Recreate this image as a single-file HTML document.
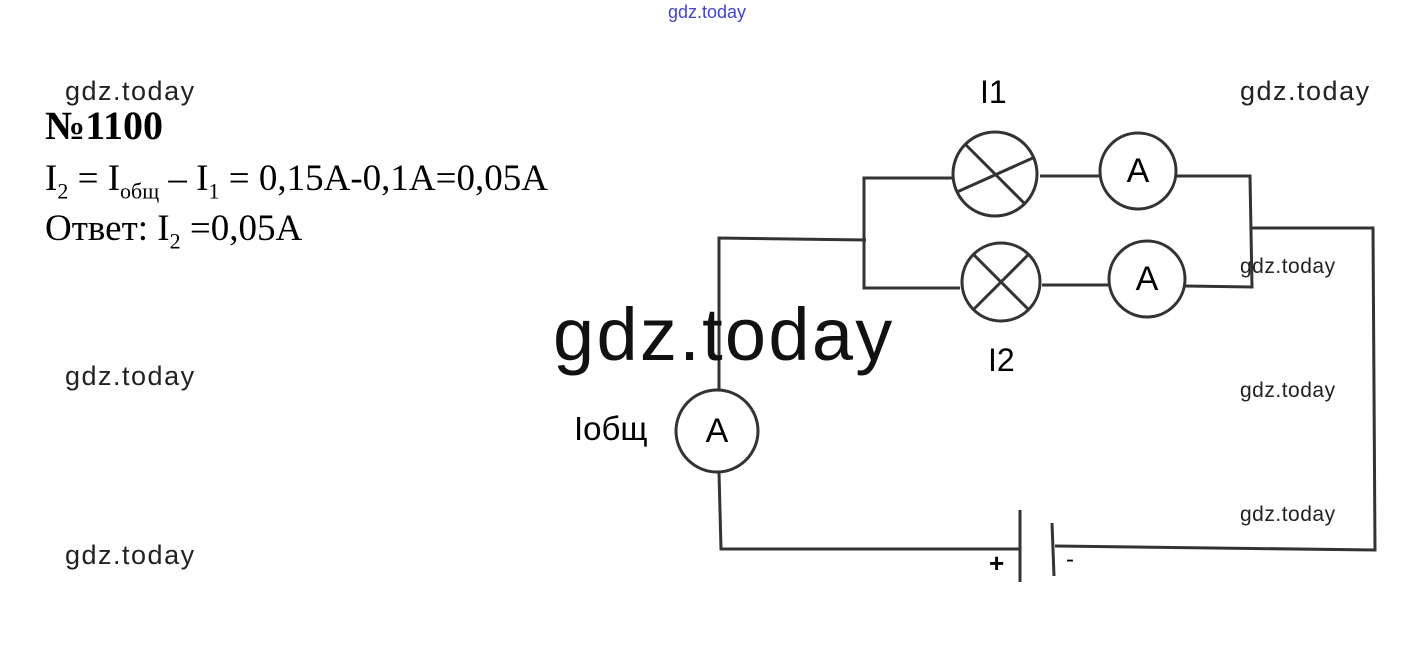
<!DOCTYPE html>
<html><head><meta charset="utf-8"><style>
body{margin:0;width:1421px;height:655px;background:#fff;overflow:hidden;position:relative;font-family:"Liberation Sans",sans-serif}
.t{position:absolute;white-space:nowrap}
.w{font-size:27px;color:#222;letter-spacing:1.5px}
.ws{font-size:21px;color:#222;letter-spacing:0.5px}
.s{font-family:"Liberation Serif",serif;font-size:37px;color:#000}
.a{position:absolute;font-size:34px;width:80px;text-align:center;line-height:40px}
</style></head><body>
<svg width="1421" height="655" style="position:absolute;left:0;top:0" fill="none" stroke="#333" stroke-width="3">
<polyline points="995,178 864,178 864,288 960,288"/>
<polyline points="1040,176 1100,176"/>
<polyline points="1177,176 1250,176 1252,287 1185,286"/>
<polyline points="1042,285 1108,285"/>
<polyline points="1252,228 1373,228 1375,550 1055,546"/>
<polyline points="866,240 719,238 719,390"/>
<polyline points="719,472 721,549 1020,549"/>
<line x1="1020" y1="510" x2="1020" y2="582"/>
<line x1="1052" y1="523" x2="1054" y2="576"/>
<circle cx="995" cy="174" r="42" fill="#fff"/>
<line x1="965" y1="144" x2="1025" y2="204"/><line x1="957" y1="192" x2="1035" y2="157"/>
<circle cx="1001" cy="282" r="39" fill="#fff"/>
<line x1="973" y1="254" x2="1029" y2="310"/><line x1="973" y1="310" x2="1029" y2="254"/>
<circle cx="1138" cy="171" r="38" fill="#fff"/>
<circle cx="1147" cy="279" r="38" fill="#fff"/>
<circle cx="717" cy="431" r="41" fill="#fff"/>
</svg>
<div class="a" style="left:1098px;top:151px">A</div>
<div class="a" style="left:1107px;top:259px">A</div>
<div class="a" style="left:677px;top:411px">A</div>
<div class="t" style="left:980px;top:74px;font-size:32px">I1</div>
<div class="t" style="left:988px;top:342px;font-size:32px">I2</div>
<div class="t" style="left:574px;top:410px;font-size:33px">Iобщ</div>
<div class="t" style="left:989px;top:548px;font-size:26px;font-weight:bold">+</div>
<div class="t" style="left:1066px;top:546px;font-size:24px">-</div>
<div class="t" style="left:668px;top:2px;font-size:18px;color:#4444cc">gdz.today</div>
<div class="t w" style="left:65px;top:76px">gdz.today</div>
<div class="t w" style="left:1240px;top:76px">gdz.today</div>
<div class="t w" style="left:65px;top:361px">gdz.today</div>
<div class="t w" style="left:65px;top:540px">gdz.today</div>
<div class="t ws" style="left:1240px;top:255px">gdz.today</div>
<div class="t ws" style="left:1240px;top:379px">gdz.today</div>
<div class="t ws" style="left:1240px;top:503px">gdz.today</div>
<div class="t" style="left:553px;top:292px;font-size:74px;color:#111;letter-spacing:2.3px">gdz.today</div>
<div class="t s" style="left:45px;top:102px;font-size:40px;font-weight:bold">№1100</div>
<div class="t s" style="left:45px;top:157px">I<sub style="font-size:22px">2</sub> = I<sub style="font-size:22px">общ</sub> – I<sub style="font-size:22px">1</sub> = 0,15A-0,1A=0,05A</div>
<div class="t s" style="left:45px;top:207px">Ответ: I<sub style="font-size:22px">2</sub> =0,05A</div>
</body></html>
